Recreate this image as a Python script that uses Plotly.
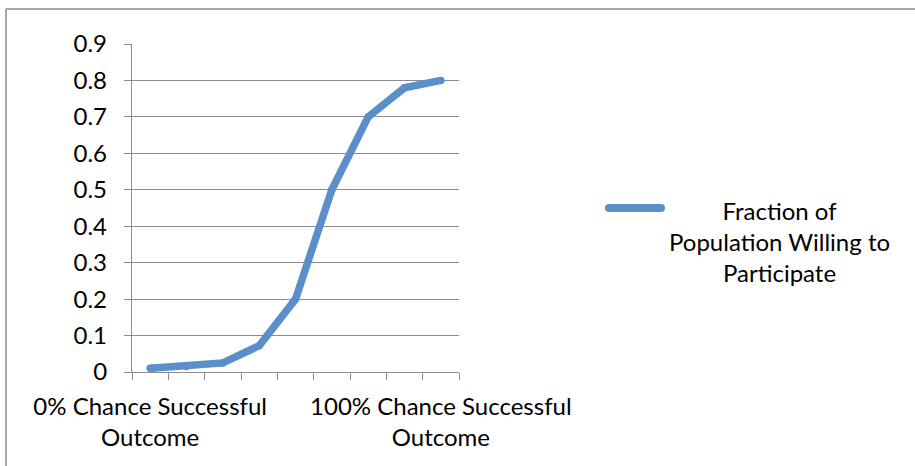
import plotly.graph_objects as go

# Willingness to participate as the chance of a successful outcome rises
x_labels = [
    "0% Chance Successful<br>Outcome", "", "", "", "", "", "", "",
    "100% Chance Successful<br>Outcome",
]
fraction_willing = [0.01, 0.015, 0.025, 0.072, 0.20, 0.50, 0.70, 0.78, 0.80]
series_name = "Fraction of<br>Population Willing to<br>Participate"
y_ticks = [0, 0.1, 0.2, 0.3, 0.4, 0.5, 0.6, 0.7, 0.8, 0.9]

W, H = 915, 466
ML, MR, MT, MB = 132, 456, 44, 94
PW, PH = W - ML - MR, H - MT - MB

LINE = "#5A8FC9"
GRID = "#8C8C8C"
FONT = "Lato"


def px_x(px):
    return (px - ML) / PW


def px_y(py):
    return (H - MB - py) / PH


xs = list(range(len(fraction_willing)))

fig = go.Figure()
fig.add_trace(go.Scatter(
    x=xs, y=fraction_willing, name=series_name,
    mode="lines+markers",
    line=dict(color=LINE, width=7.5),
    marker=dict(color=LINE, size=7.5, line=dict(width=0)),
    showlegend=False, hoverinfo="skip",
))

label_idx = [i for i, t in enumerate(x_labels) if t]
fig.update_xaxes(
    range=[-0.5, len(xs) - 0.5],
    tickmode="array", tickvals=label_idx,
    ticktext=[x_labels[i] for i in label_idx],
    ticks="", showgrid=False, zeroline=False,
    showline=True, linecolor=GRID, linewidth=1.3,
    tickfont=dict(family=FONT, size=24, color="#000"),
    ticklabelstandoff=13,
    minor=dict(
        tickmode="array",
        tickvals=[i - 0.5 for i in range(len(xs) + 1)],
        ticks="outside", ticklen=7, tickcolor=GRID, tickwidth=1.3,
        showgrid=False,
    ),
)
fig.update_yaxes(
    range=[0, 0.9], tickmode="array", tickvals=y_ticks,
    ticktext=[f"{v:g}" for v in y_ticks],
    ticks="outside", ticklen=7, tickcolor=GRID, tickwidth=1.3,
    showgrid=True, gridcolor=GRID, gridwidth=1.3,
    zeroline=False, showline=True, linecolor=GRID, linewidth=1.3,
    tickfont=dict(family=FONT, size=24, color="#000"),
    ticklabelstandoff=12,
)

# chart-area frame (left and top edges)
fig.add_shape(type="line", xref="paper", yref="paper",
              x0=px_x(6), x1=px_x(6), y0=px_y(9), y1=px_y(H + 5),
              line=dict(color=GRID, width=1.5))
fig.add_shape(type="line", xref="paper", yref="paper",
              x0=px_x(6), x1=px_x(W + 5), y0=px_y(9), y1=px_y(9),
              line=dict(color=GRID, width=1.5))

# legend key
lx0, lx1, ly = 609, 661, 208
fig.add_shape(type="line", xref="paper", yref="paper",
              x0=px_x(lx0), x1=px_x(lx1), y0=px_y(ly), y1=px_y(ly),
              line=dict(color=LINE, width=8))
for cx in (lx0, lx1):
    fig.add_shape(type="circle", xref="paper", yref="paper",
                  xsizemode="pixel", ysizemode="pixel",
                  xanchor=px_x(cx), yanchor=px_y(ly),
                  x0=-4, x1=4, y0=-4, y1=4,
                  fillcolor=LINE, line=dict(width=0))
fig.add_annotation(
    xref="paper", yref="paper", x=px_x(779), y=px_y(241),
    text=series_name, showarrow=False, align="center",
    xanchor="center", yanchor="middle",
    font=dict(family=FONT, size=24, color="#000"),
)

fig.update_layout(
    width=W, height=H,
    margin=dict(l=ML, r=MR, t=MT, b=MB),
    paper_bgcolor="white", plot_bgcolor="white",
    showlegend=False,
)

fig.write_html("out.html")
